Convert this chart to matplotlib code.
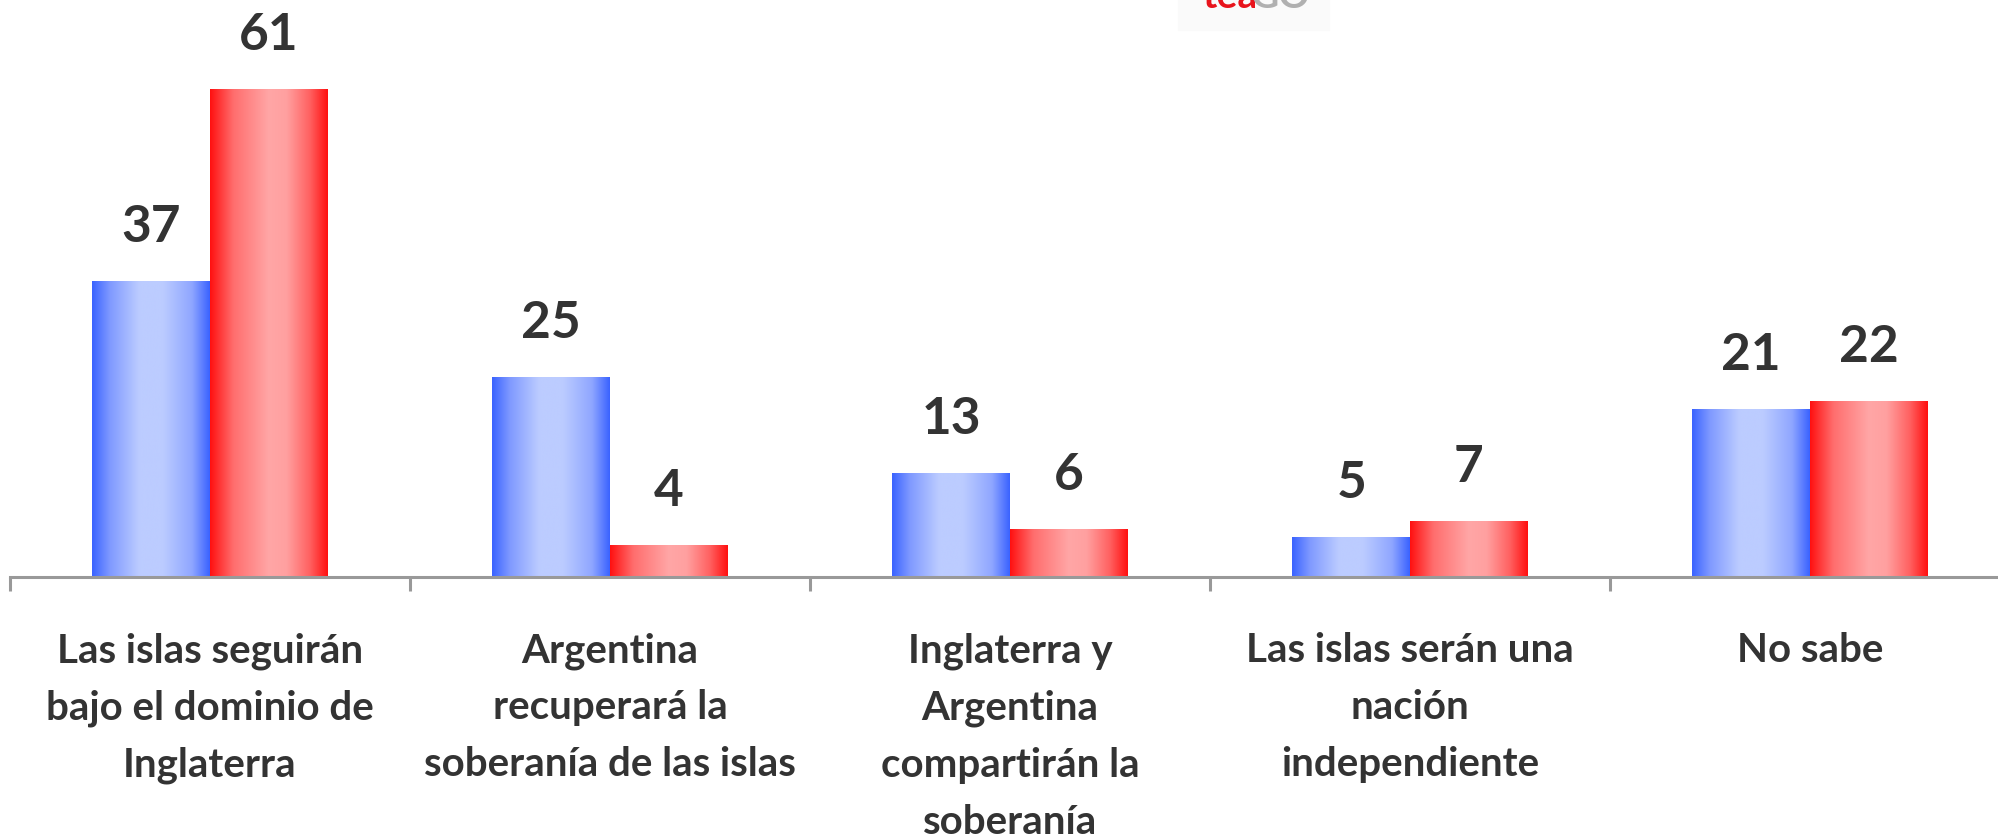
import matplotlib.pyplot as plt
import numpy as np
from matplotlib.colors import LinearSegmentedColormap

#### ---------------------------------------------------

categories = ['Las islas seguirán\nbajo el dominio de\nInglaterra',
              'Argentina\nrecuperará la\nsoberanía de las islas',
              'Inglaterra y\nArgentina\ncompartirán la\nsoberanía',
              'Las islas serán una\nnación\nindependiente',
              'No sabe']
blue_vals = [37, 25, 13, 5, 21]
red_vals = [61, 4, 6, 7, 22]

text_col = '#333333'
axis_col = '#999999'

blue_cmap = LinearSegmentedColormap.from_list(
    'bl', [(0, '#3A63FF'), (0.15, '#7F99FF'), (0.4, '#BCCCFF'),
           (0.6, '#BCCCFF'), (0.85, '#8FA6FF'), (1, '#3A63FF')])
red_cmap = LinearSegmentedColormap.from_list(
    'rd', [(0, '#FF1010'), (0.2, '#FF6E6E'), (0.5, '#FFA6A6'),
           (0.65, '#FFA0A0'), (0.85, '#FF6060'), (1, '#FF1010')])

fig = plt.figure(figsize=(19.99, 8.39), dpi=100)
ax = fig.add_axes([10 / 1999, 262 / 839, 2000 / 1999, 560 / 839])

x = np.arange(len(categories))
w = 0.294
grad = np.linspace(0, 1, 256).reshape(1, -1)

bars_b = ax.bar(x - w / 2, blue_vals, w, color='none', linewidth=0)
bars_r = ax.bar(x + w / 2, red_vals, w, color='none', linewidth=0)

for bars, cmap in [(bars_b, blue_cmap), (bars_r, red_cmap)]:
    for b in bars:
        x0 = b.get_x()
        ax.imshow(grad, cmap=cmap, aspect='auto', interpolation='bicubic',
                  extent=(x0, x0 + b.get_width(), 0, b.get_height()), zorder=2)
        ax.text(x0 + b.get_width() / 2, b.get_height() + 3.8, str(int(b.get_height())),
                ha='center', va='bottom', fontsize=37, fontweight='bold',
                family='Lato', color=text_col, clip_on=False)

for i, c in enumerate(categories):
    ax.text(i, -6.9, c, ha='center', va='top', fontsize=29, fontweight='bold',
            family='Lato', color=text_col, linespacing=1.66, clip_on=False)

ax.set_xlim(-0.5, 4.5)
ax.set_ylim(0, 70)
ax.set_xticks(np.arange(-0.5, 5, 1))
ax.set_xticklabels([])
ax.set_yticks([])
ax.tick_params(axis='x', direction='out', length=10, width=2.2, color=axis_col)
for s in ['top', 'right', 'left']:
    ax.spines[s].set_visible(False)
ax.spines['bottom'].set_color(axis_col)
ax.spines['bottom'].set_linewidth(2.2)
ax.patch.set_alpha(0)

# cut-off logo at the top
fig.patches.append(plt.Rectangle((1178 / 1999, 1 - 30 / 839), 151 / 1999, 30 / 839,
                                 transform=fig.transFigure, color='#FAFAFA', zorder=0))
fig.text(1202 / 1999, 1 - 8 / 839, 'tea', color='#E8141C', fontsize=28,
         fontweight='bold', family='Lato', va='baseline')
fig.text(1251 / 1999, 1 - 8 / 839, 'GO', color='#B0B0B0', fontsize=28,
         fontweight='bold', family='Lato', va='baseline')

plt.savefig('out.png', dpi=100)
